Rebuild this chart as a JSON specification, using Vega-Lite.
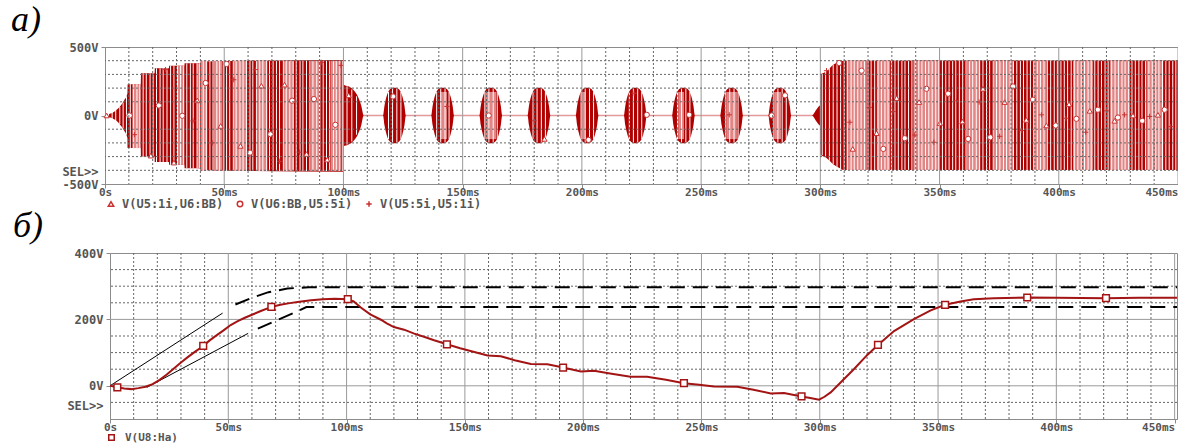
{
"$schema": "https://vega.github.io/schema/vega-lite/v6.json",
"background": "white",
"padding": {"left": 10, "top": 1, "right": 0, "bottom": 0},
"bounds": "flush",
"spacing": 69,
"resolve": {"scale": {"shape": "independent"}, "legend": {"shape": "independent"}},
"config": {
 "view": {"stroke": "#8c8c8c"},
 "axis": {"labelFont": "DejaVu Sans Mono", "labelFontWeight": "bold", "labelFontSize": 12, "labelColor": "#555555", "domainColor": "#8c8c8c", "tickColor": "#8c8c8c", "tickSize": 4, "labelPadding": 2, "grid": false, "labelOverlap": false},
 "legend": {"labelFont": "DejaVu Sans Mono", "labelFontWeight": "bold", "labelFontSize": 12, "labelColor": "#555555"},
 "title": {"font": "Liberation Serif", "fontStyle": "italic", "fontWeight": "normal", "fontSize": 36, "color": "#000000"}
},
"datasets": {
 "gxM": [{"t":50},{"t":100},{"t":150},{"t":200},{"t":250},{"t":300},{"t":350},{"t":400},{"t":450}],
 "gxm": [{"t":10},{"t":20},{"t":30},{"t":40},{"t":60},{"t":70},{"t":80},{"t":90},{"t":110},{"t":120},{"t":130},{"t":140},{"t":160},{"t":170},{"t":180},{"t":190},{"t":210},{"t":220},{"t":230},{"t":240},{"t":260},{"t":270},{"t":280},{"t":290},{"t":310},{"t":320},{"t":330},{"t":340},{"t":360},{"t":370},{"t":380},{"t":390},{"t":410},{"t":420},{"t":430},{"t":440}],
 "gz": [{"v":0}],
 "gyt": [{"v":-400},{"v":-300},{"v":-200},{"v":-100},{"v":100},{"v":200},{"v":300},{"v":400}],
 "gyb": [{"v":-50},{"v":50},{"v":100},{"v":150},{"v":250},{"v":300},{"v":350}],
 "gybs": [{"v":0},{"v":200}],
 "env": [
  {"t":0,"a":0,"b":0},{"t":2,"a":12,"b":-12},{"t":4,"a":30,"b":-30},{"t":6,"a":60,"b":-60},{"t":8,"a":110,"b":-110},{"t":9.4,"a":160,"b":-165},
  {"t":9.5,"a":229,"b":-238},{"t":15,"a":229,"b":-238},{"t":15.1,"a":308,"b":-300},{"t":20.8,"a":308,"b":-300},{"t":20.9,"a":344,"b":-340},{"t":26.8,"a":344,"b":-340},
  {"t":26.9,"a":364,"b":-360},{"t":33.3,"a":364,"b":-360},{"t":33.4,"a":381,"b":-385},{"t":40,"a":381,"b":-385},{"t":40.1,"a":395,"b":-398},{"t":60,"a":400,"b":-405},
  {"t":99.8,"a":405,"b":-410},{"t":100,"a":225,"b":-225},{"t":102,"a":213,"b":-213},{"t":104,"a":190,"b":-190},{"t":106,"a":140,"b":-140},{"t":107.5,"a":70,"b":-70},{"t":108.5,"a":0,"b":0},
  {"t":116.6,"a":0,"b":0},{"t":117.2,"a":70,"b":-70},{"t":118.1,"a":140,"b":-140},{"t":119.2,"a":185,"b":-185},{"t":120.4,"a":200,"b":-200},{"t":121.4,"a":203,"b":-203},{"t":122.4,"a":200,"b":-200},{"t":123.6,"a":185,"b":-185},{"t":124.7,"a":140,"b":-140},{"t":125.6,"a":70,"b":-70},{"t":126.2,"a":0,"b":0},
  {"t":136.8,"a":0,"b":0},{"t":137.4,"a":70,"b":-70},{"t":138.3,"a":140,"b":-140},{"t":139.4,"a":185,"b":-185},{"t":140.6,"a":200,"b":-200},{"t":141.6,"a":203,"b":-203},{"t":142.6,"a":200,"b":-200},{"t":143.8,"a":185,"b":-185},{"t":144.9,"a":140,"b":-140},{"t":145.8,"a":70,"b":-70},{"t":146.4,"a":0,"b":0},
  {"t":157.0,"a":0,"b":0},{"t":157.6,"a":70,"b":-70},{"t":158.5,"a":140,"b":-140},{"t":159.6,"a":185,"b":-185},{"t":160.8,"a":200,"b":-200},{"t":161.8,"a":203,"b":-203},{"t":162.8,"a":200,"b":-200},{"t":164.0,"a":185,"b":-185},{"t":165.1,"a":140,"b":-140},{"t":166.0,"a":70,"b":-70},{"t":166.6,"a":0,"b":0},
  {"t":177.2,"a":0,"b":0},{"t":177.8,"a":70,"b":-70},{"t":178.7,"a":140,"b":-140},{"t":179.8,"a":185,"b":-185},{"t":181.0,"a":200,"b":-200},{"t":182.0,"a":203,"b":-203},{"t":183.0,"a":200,"b":-200},{"t":184.2,"a":185,"b":-185},{"t":185.3,"a":140,"b":-140},{"t":186.2,"a":70,"b":-70},{"t":186.8,"a":0,"b":0},
  {"t":197.4,"a":0,"b":0},{"t":198.0,"a":70,"b":-70},{"t":198.9,"a":140,"b":-140},{"t":200.0,"a":185,"b":-185},{"t":201.2,"a":200,"b":-200},{"t":202.2,"a":203,"b":-203},{"t":203.2,"a":200,"b":-200},{"t":204.4,"a":185,"b":-185},{"t":205.5,"a":140,"b":-140},{"t":206.4,"a":70,"b":-70},{"t":207.0,"a":0,"b":0},
  {"t":217.6,"a":0,"b":0},{"t":218.2,"a":70,"b":-70},{"t":219.1,"a":140,"b":-140},{"t":220.2,"a":185,"b":-185},{"t":221.4,"a":200,"b":-200},{"t":222.4,"a":203,"b":-203},{"t":223.4,"a":200,"b":-200},{"t":224.6,"a":185,"b":-185},{"t":225.7,"a":140,"b":-140},{"t":226.6,"a":70,"b":-70},{"t":227.2,"a":0,"b":0},
  {"t":237.8,"a":0,"b":0},{"t":238.4,"a":70,"b":-70},{"t":239.3,"a":140,"b":-140},{"t":240.4,"a":185,"b":-185},{"t":241.6,"a":200,"b":-200},{"t":242.6,"a":203,"b":-203},{"t":243.6,"a":200,"b":-200},{"t":244.8,"a":185,"b":-185},{"t":245.9,"a":140,"b":-140},{"t":246.8,"a":70,"b":-70},{"t":247.4,"a":0,"b":0},
  {"t":258.0,"a":0,"b":0},{"t":258.6,"a":70,"b":-70},{"t":259.5,"a":140,"b":-140},{"t":260.6,"a":185,"b":-185},{"t":261.8,"a":200,"b":-200},{"t":262.8,"a":203,"b":-203},{"t":263.8,"a":200,"b":-200},{"t":265.0,"a":185,"b":-185},{"t":266.1,"a":140,"b":-140},{"t":267.0,"a":70,"b":-70},{"t":267.6,"a":0,"b":0},
  {"t":278.2,"a":0,"b":0},{"t":278.8,"a":70,"b":-70},{"t":279.7,"a":140,"b":-140},{"t":280.8,"a":185,"b":-185},{"t":282.0,"a":200,"b":-200},{"t":283.0,"a":203,"b":-203},{"t":284.0,"a":200,"b":-200},{"t":285.2,"a":185,"b":-185},{"t":286.3,"a":140,"b":-140},{"t":287.2,"a":70,"b":-70},{"t":287.8,"a":0,"b":0},
  {"t":296.5,"a":0,"b":0},{"t":298,"a":35,"b":-35},{"t":299.5,"a":70,"b":-70},{"t":299.9,"a":75,"b":-75},{"t":300,"a":298,"b":-285},{"t":302.6,"a":322,"b":-310},{"t":305.4,"a":371,"b":-355},{"t":308.2,"a":390,"b":-385},{"t":309.6,"a":400,"b":-398},{"t":450,"a":402,"b":-398}
 ],
 "seg": [
  {"k":"s1","a":12,"b":-12},{"k":"s2","a":25,"b":-25},{"k":"s3","a":40,"b":-40},{"k":"s4","a":62,"b":-62},{"k":"s5","a":95,"b":-95},{"k":"s6","a":140,"b":-140},
  {"k":"A","a":229,"b":-238},{"k":"B","a":308,"b":-300},{"k":"C","a":344,"b":-340},{"k":"D","a":364,"b":-360},{"k":"E","a":381,"b":-385},{"k":"F","a":400,"b":-405},
  {"k":"d1","a":213,"b":-213},{"k":"d2","a":190,"b":-190},{"k":"d3","a":140,"b":-140},{"k":"u1","a":172,"b":-172},{"k":"u2","a":198,"b":-198},
  {"k":"r1","a":305,"b":-290},{"k":"r2","a":322,"b":-305},{"k":"r3","a":345,"b":-330},{"k":"r4","a":371,"b":-355},{"k":"r5","a":385,"b":-375},{"k":"r6","a":393,"b":-390},{"k":"G","a":401,"b":-398}
 ],
 "pz": [
  {"t":11.5,"t2":14.9,"k":"A"},{"t":30.3,"t2":33.2,"k":"D"},{"t":38.7,"t2":39.9,"k":"E"},{"t":40.2,"t2":42.9,"k":"F"},{"t":45.6,"t2":49.1,"k":"F"},{"t":54,"t2":59.6,"k":"F"},{"t":63.8,"t2":68,"k":"F"},{"t":75,"t2":79.2,"k":"F"},{"t":86.2,"t2":90.4,"k":"F"},{"t":94.6,"t2":98.8,"k":"F"},
  {"t":140.6,"t2":143.4,"k":"u1"},{"t":159.6,"t2":164,"k":"u1"},{"t":199.5,"t2":201.5,"k":"u1"},{"t":240.4,"t2":242.8,"k":"u1"},{"t":260.6,"t2":265,"k":"u1"},{"t":280.8,"t2":283.5,"k":"u1"},
  {"t":311.1,"t2":319.5,"k":"G"},{"t":323.7,"t2":329.3,"k":"G"},{"t":339,"t2":350,"k":"G"},{"t":361.4,"t2":367,"k":"G"},{"t":372.6,"t2":381,"k":"G"},{"t":389.3,"t2":394.9,"k":"G"},{"t":406,"t2":414.4,"k":"G"},{"t":421.4,"t2":429.8,"k":"G"},{"t":436.8,"t2":443.8,"k":"G"}
 ],
 "wl": [
  {"t":1.5,"k":"s1"},{"t":3,"k":"s2"},{"t":4.5,"k":"s3"},{"t":6.2,"k":"s4"},{"t":7.6,"k":"s5"},{"t":9,"k":"s6"},
  {"t":10.6,"k":"A"},{"t":11.9,"k":"A"},{"t":13.4,"k":"A"},{"t":14.6,"k":"A"},
  {"t":16.0,"k":"B"},{"t":17.3,"k":"B"},{"t":18.9,"k":"B"},{"t":20.2,"k":"B"},
  {"t":21.6,"k":"C"},{"t":23.1,"k":"C"},{"t":24.4,"k":"C"},{"t":26.0,"k":"C"},
  {"t":27.5,"k":"D"},{"t":28.9,"k":"D"},{"t":30.4,"k":"D"},{"t":31.7,"k":"D"},{"t":33.0,"k":"D"},
  {"t":34.3,"k":"E"},{"t":35.8,"k":"E"},{"t":37.0,"k":"E"},{"t":38.6,"k":"E"},{"t":39.7,"k":"E"},
  {"t":41.2,"k":"F"},{"t":42.5,"k":"F"},{"t":44.0,"k":"F"},{"t":45.3,"k":"F"},{"t":46.9,"k":"F"},{"t":48.1,"k":"F"},{"t":49.6,"k":"F"},{"t":51.0,"k":"F"},{"t":52.3,"k":"F"},{"t":53.8,"k":"F"},{"t":55.0,"k":"F"},{"t":56.6,"k":"F"},{"t":57.9,"k":"F"},{"t":59.3,"k":"F"},{"t":60.8,"k":"F"},{"t":62.0,"k":"F"},{"t":63.5,"k":"F"},{"t":64.9,"k":"F"},{"t":66.2,"k":"F"},{"t":67.8,"k":"F"},{"t":69.0,"k":"F"},{"t":70.5,"k":"F"},{"t":71.9,"k":"F"},{"t":73.2,"k":"F"},{"t":74.8,"k":"F"},{"t":76.0,"k":"F"},{"t":77.5,"k":"F"},{"t":78.9,"k":"F"},{"t":80.2,"k":"F"},{"t":81.8,"k":"F"},{"t":83.0,"k":"F"},{"t":84.5,"k":"F"},{"t":85.9,"k":"F"},{"t":87.2,"k":"F"},{"t":88.8,"k":"F"},{"t":90.0,"k":"F"},{"t":91.5,"k":"F"},{"t":92.9,"k":"F"},{"t":94.2,"k":"F"},{"t":95.8,"k":"F"},{"t":97.0,"k":"F"},{"t":98.5,"k":"F"},{"t":99.5,"k":"F"},
  {"t":101.5,"k":"d1"},{"t":103.5,"k":"d2"},{"t":105.5,"k":"d3"},
  {"t":118.9,"k":"u1"},{"t":120.6,"k":"u2"},{"t":122.4,"k":"u2"},{"t":124.1,"k":"u1"},
  {"t":139.1,"k":"u1"},{"t":140.8,"k":"u2"},{"t":142.6,"k":"u2"},{"t":144.3,"k":"u1"},
  {"t":159.3,"k":"u1"},{"t":161.0,"k":"u2"},{"t":162.8,"k":"u2"},{"t":164.5,"k":"u1"},
  {"t":179.5,"k":"u1"},{"t":181.2,"k":"u2"},{"t":183.0,"k":"u2"},{"t":184.7,"k":"u1"},
  {"t":199.7,"k":"u1"},{"t":201.4,"k":"u2"},{"t":203.2,"k":"u2"},{"t":204.9,"k":"u1"},
  {"t":219.9,"k":"u1"},{"t":221.6,"k":"u2"},{"t":223.4,"k":"u2"},{"t":225.1,"k":"u1"},
  {"t":240.1,"k":"u1"},{"t":241.8,"k":"u2"},{"t":243.6,"k":"u2"},{"t":245.3,"k":"u1"},
  {"t":260.3,"k":"u1"},{"t":262.0,"k":"u2"},{"t":263.8,"k":"u2"},{"t":265.5,"k":"u1"},
  {"t":280.5,"k":"u1"},{"t":282.2,"k":"u2"},{"t":284.0,"k":"u2"},{"t":285.7,"k":"u1"},
  {"t":300.8,"k":"r1"},{"t":302.2,"k":"r2"},{"t":303.8,"k":"r3"},{"t":305.4,"k":"r4"},{"t":307,"k":"r5"},{"t":308.5,"k":"r6"},
  {"t":310.0,"k":"G"},{"t":311.3,"k":"G"},{"t":312.9,"k":"G"},{"t":314.2,"k":"G"},{"t":315.7,"k":"G"},{"t":317.1,"k":"G"},{"t":318.5,"k":"G"},{"t":320.0,"k":"G"},{"t":321.3,"k":"G"},{"t":322.8,"k":"G"},{"t":324.2,"k":"G"},{"t":325.6,"k":"G"},{"t":327.1,"k":"G"},{"t":328.4,"k":"G"},{"t":329.9,"k":"G"},{"t":331.3,"k":"G"},{"t":332.7,"k":"G"},{"t":334.2,"k":"G"},{"t":335.5,"k":"G"},{"t":337.0,"k":"G"},{"t":338.4,"k":"G"},{"t":339.8,"k":"G"},{"t":341.3,"k":"G"},{"t":342.6,"k":"G"},{"t":344.1,"k":"G"},{"t":345.5,"k":"G"},{"t":346.9,"k":"G"},{"t":348.4,"k":"G"},{"t":349.7,"k":"G"},{"t":351.2,"k":"G"},{"t":352.6,"k":"G"},{"t":354.0,"k":"G"},{"t":355.5,"k":"G"},{"t":356.8,"k":"G"},{"t":358.3,"k":"G"},{"t":359.7,"k":"G"},{"t":361.1,"k":"G"},{"t":362.6,"k":"G"},{"t":363.9,"k":"G"},{"t":365.4,"k":"G"},{"t":366.8,"k":"G"},{"t":368.2,"k":"G"},{"t":369.7,"k":"G"},{"t":371.0,"k":"G"},{"t":372.5,"k":"G"},{"t":373.9,"k":"G"},{"t":375.3,"k":"G"},{"t":376.8,"k":"G"},{"t":378.1,"k":"G"},{"t":379.6,"k":"G"},{"t":381.0,"k":"G"},{"t":382.4,"k":"G"},{"t":383.9,"k":"G"},{"t":385.2,"k":"G"},{"t":386.7,"k":"G"},{"t":388.1,"k":"G"},{"t":389.5,"k":"G"},{"t":391.0,"k":"G"},{"t":392.3,"k":"G"},{"t":393.8,"k":"G"},{"t":395.2,"k":"G"},{"t":396.6,"k":"G"},{"t":398.1,"k":"G"},{"t":399.4,"k":"G"},{"t":400.9,"k":"G"},{"t":402.3,"k":"G"},{"t":403.7,"k":"G"},{"t":405.2,"k":"G"},{"t":406.5,"k":"G"},{"t":408.0,"k":"G"},{"t":409.4,"k":"G"},{"t":410.8,"k":"G"},{"t":412.3,"k":"G"},{"t":413.6,"k":"G"},{"t":415.1,"k":"G"},{"t":416.5,"k":"G"},{"t":417.9,"k":"G"},{"t":419.4,"k":"G"},{"t":420.7,"k":"G"},{"t":422.2,"k":"G"},{"t":423.6,"k":"G"},{"t":425.0,"k":"G"},{"t":426.5,"k":"G"},{"t":427.8,"k":"G"},{"t":429.3,"k":"G"},{"t":430.7,"k":"G"},{"t":432.1,"k":"G"},{"t":433.6,"k":"G"},{"t":434.9,"k":"G"},{"t":436.4,"k":"G"},{"t":437.8,"k":"G"},{"t":439.2,"k":"G"},{"t":440.7,"k":"G"},{"t":442.0,"k":"G"},{"t":443.5,"k":"G"},{"t":444.9,"k":"G"},{"t":446.3,"k":"G"},{"t":447.8,"k":"G"},{"t":449.1,"k":"G"}
 ],
 "mk": [
  {"t":0.7,"v":0,"s":"1"},{"t":10.3,"v":0,"s":"2"},{"t":12.3,"v":-140,"s":"3"},{"t":19.2,"v":-293,"s":"1"},{"t":22.6,"v":73,"s":"2"},{"t":25.4,"v":335,"s":"3"},{"t":28.9,"v":-344,"s":"1"},{"t":32.4,"v":-2,"s":"2"},{"t":36.9,"v":-39,"s":"3"},{"t":38.7,"v":110,"s":"1"},{"t":42.2,"v":237,"s":"2"},{"t":45,"v":-200,"s":"3"},{"t":48.5,"v":-76,"s":"1"},{"t":51,"v":376,"s":"2"},{"t":54,"v":261,"s":"3"},{"t":56.8,"v":-222,"s":"1"},{"t":60.8,"v":-271,"s":"2"},{"t":63.1,"v":335,"s":"3"},{"t":65.6,"v":217,"s":"1"},{"t":69.4,"v":-137,"s":"2"},{"t":73.3,"v":-335,"s":"3"},{"t":75.3,"v":225,"s":"1"},{"t":78.5,"v":108,"s":"2"},{"t":81.6,"v":-268,"s":"3"},{"t":84.5,"v":-281,"s":"1"},{"t":87.6,"v":120,"s":"2"},{"t":90.7,"v":388,"s":"3"},{"t":93.2,"v":-322,"s":"1"},{"t":96.6,"v":-68,"s":"2"},{"t":99,"v":366,"s":"3"},{"t":102.2,"v":147,"s":"1"},
  {"t":120.8,"v":139,"s":"2"},{"t":143.4,"v":66,"s":"3"},{"t":160.9,"v":0,"s":"2"},{"t":180,"v":-39,"s":"3"},{"t":184.3,"v":-171,"s":"1"},{"t":202.8,"v":-178,"s":"2"},{"t":221.9,"v":163,"s":"3"},{"t":227.2,"v":5,"s":"2"},{"t":245,"v":5,"s":"2"},{"t":261.8,"v":5,"s":"3"},{"t":279.6,"v":0,"s":"2"},{"t":285.2,"v":147,"s":"2"},
  {"t":302.6,"v":327,"s":"3"},{"t":307.9,"v":383,"s":"2"},{"t":317.3,"v":327,"s":"2"},{"t":312.4,"v":-49,"s":"3"},{"t":320.5,"v":59,"s":"3"},{"t":313.6,"v":-244,"s":"1"},{"t":323.6,"v":-129,"s":"1"},{"t":326.4,"v":-244,"s":"2"},{"t":332,"v":127,"s":"1"},{"t":330.5,"v":29,"s":"3"},{"t":335.4,"v":-166,"s":"2"},{"t":339.6,"v":-142,"s":"3"},{"t":341.4,"v":98,"s":"1"},{"t":344.5,"v":195,"s":"2"},{"t":347.6,"v":-195,"s":"3"},{"t":350.1,"v":-56,"s":"1"},{"t":353.6,"v":159,"s":"2"},{"t":357.1,"v":107,"s":"3"},{"t":359.6,"v":-44,"s":"1"},{"t":362,"v":-171,"s":"2"},{"t":366.6,"v":98,"s":"3"},{"t":368.2,"v":195,"s":"1"},{"t":371.3,"v":-159,"s":"2"},{"t":375.2,"v":-152,"s":"3"},{"t":377.3,"v":98,"s":"1"},{"t":380.8,"v":212,"s":"2"},{"t":384.3,"v":-110,"s":"3"},{"t":386.4,"v":-32,"s":"1"},{"t":389.2,"v":115,"s":"2"},{"t":392.7,"v":5,"s":"3"},{"t":394.8,"v":-73,"s":"1"},{"t":398.7,"v":-73,"s":"2"},{"t":402.9,"v":-20,"s":"3"},{"t":404.3,"v":83,"s":"1"},{"t":407.4,"v":-24,"s":"2"},{"t":411.3,"v":-122,"s":"3"},{"t":413,"v":34,"s":"1"},{"t":416.4,"v":42,"s":"2"},{"t":420,"v":34,"s":"3"},{"t":423.4,"v":-39,"s":"1"},{"t":424.8,"v":-15,"s":"2"},{"t":427.6,"v":5,"s":"3"},{"t":431.1,"v":0,"s":"1"},{"t":435,"v":-39,"s":"2"},{"t":438.1,"v":-7,"s":"3"},{"t":441.6,"v":5,"s":"1"},{"t":444.4,"v":42,"s":"2"},{"t":446.8,"v":-81,"s":"3"}
 ],
 "cv": [
  {"t":0,"v":0},{"t":3,"v":-4},{"t":6,"v":-8},{"t":9,"v":-10},{"t":12,"v":-7},{"t":15,"v":-3},{"t":18,"v":5},{"t":21,"v":18},{"t":24,"v":34},{"t":27,"v":52},{"t":30,"v":70},{"t":33,"v":87},{"t":36,"v":103},{"t":39.4,"v":120},{"t":42,"v":136},{"t":45,"v":152},{"t":48,"v":167},{"t":51,"v":183},{"t":54,"v":195},{"t":57,"v":205},{"t":60,"v":214},{"t":64,"v":226},{"t":68,"v":237},{"t":72,"v":244},{"t":76,"v":249},{"t":80,"v":253},{"t":85,"v":258},{"t":90,"v":261},{"t":95,"v":262},{"t":100.5,"v":261},
  {"t":103,"v":254},{"t":106,"v":236},{"t":110,"v":215},{"t":114.5,"v":199},{"t":117,"v":188},{"t":120,"v":177},{"t":124.3,"v":169},{"t":128.6,"v":157},{"t":133,"v":147},{"t":137,"v":137},{"t":142.4,"v":125},{"t":148,"v":113},{"t":154,"v":102},{"t":159.6,"v":91},{"t":165.2,"v":89},{"t":171,"v":77},{"t":177.9,"v":66},{"t":184.9,"v":65},{"t":191.5,"v":55},{"t":199,"v":43},{"t":204.6,"v":45},{"t":212,"v":36},{"t":220,"v":27},{"t":227,"v":27},{"t":235,"v":18},{"t":242.6,"v":8},{"t":249,"v":3},{"t":255.3,"v":-2},{"t":265.2,"v":-3},{"t":272,"v":-12},{"t":279.3,"v":-23},{"t":284.9,"v":-22},{"t":292.3,"v":-32},{"t":296,"v":-37},{"t":299.7,"v":-42},
  {"t":302,"v":-33},{"t":304.6,"v":-20},{"t":308.8,"v":10},{"t":314.4,"v":50},{"t":320.1,"v":93},{"t":324.6,"v":123},{"t":331.4,"v":165},{"t":339.8,"v":201},{"t":346.9,"v":227},{"t":353,"v":244},{"t":359.5,"v":254},{"t":365.1,"v":261},{"t":373.6,"v":264},{"t":387.7,"v":266},{"t":400,"v":265},{"t":421,"v":264},{"t":435,"v":265},{"t":451,"v":265}
 ],
 "sq": [
  {"t":3.1,"v":-5,"s":"8"},{"t":39.4,"v":120,"s":"8"},{"t":68.2,"v":238,"s":"8"},{"t":100.5,"v":261,"s":"8"},{"t":142.4,"v":125,"s":"8"},{"t":191.5,"v":55,"s":"8"},{"t":242.6,"v":8,"s":"8"},{"t":292.3,"v":-32,"s":"8"},{"t":324.6,"v":123,"s":"8"},{"t":353,"v":244,"s":"8"},{"t":387.7,"v":266,"s":"8"},{"t":421,"v":264,"s":"8"}
 ],
 "gs": [
  {"g":"u","t":0,"v":0},{"g":"u","t":47.6,"v":219},{"g":"l","t":15.5,"v":-5},{"g":"l","t":58.4,"v":158}
 ],
 "gd": [
  {"g":"u","t":53,"v":245},{"g":"u","t":60,"v":265},{"g":"u","t":67,"v":282},{"g":"u","t":75,"v":293},{"g":"u","t":84,"v":297},{"g":"u","t":451,"v":297},
  {"g":"l","t":62.5,"v":172},{"g":"l","t":70.5,"v":197},{"g":"l","t":78.5,"v":222},{"g":"l","t":83,"v":237},{"g":"l","t":451,"v":237}
 ],
 "blank": [{"t":0}]
},
"vconcat": [
 {
  "width": 1073, "height": 137,
  "title": {"text": "а)", "anchor": "start", "frame": "group", "dx": -94, "offset": 2},
  "layer": [
   {"data": {"name": "gz"}, "mark": {"type": "rule", "color": "#e49a9a", "strokeWidth": 1.5},
    "encoding": {"y": {"field": "v", "type": "quantitative", "title": null, "scale": {"domain": [-500, 500], "nice": false, "zero": false},
      "axis": {"values": [-500, -412, 0, 500], "labelPadding": 3, "labelOverlap": false,
       "labelExpr": "datum.value == 500 ? '500V' : datum.value == 0 ? '0V' : datum.value == -500 ? '-500V' : 'SEL>>'",
       "tickOpacity": {"condition": {"test": "datum.value == -412", "value": 0}, "value": 1}}}}},
   {"data": {"name": "env"}, "mark": {"type": "area", "color": "#b00000", "interpolate": "monotone"},
    "encoding": {"x": {"field": "t", "type": "quantitative", "title": null, "scale": {"domain": [0, 450], "nice": false, "zero": false},
      "axis": {"values": [0, 50, 100, 150, 200, 250, 300, 350, 400, 450], "labelFontSize": 11, "labelPadding": -2, "labelOverlap": false,
       "labelExpr": "datum.value == 0 ? '0s' : datum.value + 'ms'",
       "labelAlign": {"condition": {"test": "datum.value == 450", "value": "right"}, "value": "center"}}},
     "y": {"field": "a", "type": "quantitative", "title": null, "scale": {"domain": [-500, 500], "nice": false, "zero": false}},
     "y2": {"field": "b"}}},
   {"data": {"name": "pz"}, "transform": [{"lookup": "k", "from": {"data": {"name": "seg"}, "key": "k", "fields": ["a", "b"]}}],
    "mark": {"type": "rect", "color": "#e38585"},
    "encoding": {"x": {"field": "t", "type": "quantitative", "title": null, "scale": {"domain": [0, 450], "nice": false, "zero": false}}, "x2": {"field": "t2"},
     "y": {"field": "a", "type": "quantitative", "title": null, "scale": {"domain": [-500, 500], "nice": false, "zero": false}}, "y2": {"field": "b"}}},
   {"data": {"name": "wl"}, "transform": [{"lookup": "k", "from": {"data": {"name": "seg"}, "key": "k", "fields": ["a", "b"]}}],
    "mark": {"type": "rule", "color": "#ffffff", "strokeWidth": 1},
    "encoding": {"x": {"field": "t", "type": "quantitative", "title": null, "scale": {"domain": [0, 450], "nice": false, "zero": false}},
     "y": {"field": "a", "type": "quantitative", "title": null, "scale": {"domain": [-500, 500], "nice": false, "zero": false}}, "y2": {"field": "b"}}},
   {"data": {"name": "mk"}, "mark": {"type": "point", "filled": true, "fill": "#ffffff", "stroke": "#c83232", "strokeWidth": 1, "size": 28, "opacity": 1},
    "encoding": {"x": {"field": "t", "type": "quantitative", "title": null, "scale": {"domain": [0, 450], "nice": false, "zero": false}},
     "y": {"field": "v", "type": "quantitative", "title": null, "scale": {"domain": [-500, 500], "nice": false, "zero": false}},
     "shape": {"field": "s", "type": "nominal", "scale": {"domain": ["1", "2", "3"], "range": ["triangle-up", "circle", "M-1,0L1,0M0,-1L0,1"]},
      "legend": {"orient": "none", "legendX": 0, "legendY": 151, "direction": "horizontal", "title": null, "padding": 0, "columnPadding": 10, "labelOffset": 5, "symbolSize": 30,
       "labelExpr": "datum.label == '1' ? 'V(U5:1i,U6:BB)' : datum.label == '2' ? 'V(U6:BB,U5:5i)' : 'V(U5:5i,U5:1i)'"}}}},
   {"data": {"name": "gxm"}, "mark": {"type": "rule", "color": "#666666", "strokeWidth": 1, "strokeDash": [2, 2]},
    "encoding": {"x": {"field": "t", "type": "quantitative", "title": null, "scale": {"domain": [0, 450], "nice": false, "zero": false}}}},
   {"data": {"name": "gxM"}, "mark": {"type": "rule", "color": "#9a9a9a", "strokeWidth": 1},
    "encoding": {"x": {"field": "t", "type": "quantitative", "title": null, "scale": {"domain": [0, 450], "nice": false, "zero": false}}}},
   {"data": {"name": "gyt"}, "mark": {"type": "rule", "color": "#666666", "strokeWidth": 1, "strokeDash": [2, 2]},
    "encoding": {"y": {"field": "v", "type": "quantitative", "title": null, "scale": {"domain": [-500, 500], "nice": false, "zero": false}}}}
  ]
 },
 {
  "bounds": "flush",
  "spacing": 4,
  "hconcat": [
   {"width": 1, "height": 166, "view": {"stroke": null}, "data": {"name": "blank"}, "mark": {"type": "point", "opacity": 0}},
   {
    "width": 1067, "height": 166,
    "title": {"text": "б)", "anchor": "start", "frame": "group", "dx": -97, "offset": 2},
    "layer": [
     {"data": {"name": "gxm"}, "mark": {"type": "rule", "color": "#666666", "strokeWidth": 1, "strokeDash": [2, 2]},
      "encoding": {"x": {"field": "t", "type": "quantitative", "title": null, "scale": {"domain": [0, 451], "nice": false, "zero": false},
        "axis": {"values": [0, 50, 100, 150, 200, 250, 300, 350, 400, 450], "labelFontSize": 11, "labelPadding": -2, "labelOverlap": false,
         "labelExpr": "datum.value == 0 ? '0s' : datum.value + 'ms'",
         "labelAlign": {"condition": {"test": "datum.value == 450", "value": "right"}, "value": "center"}}}}},
     {"data": {"name": "gxM"}, "mark": {"type": "rule", "color": "#9a9a9a", "strokeWidth": 1},
      "encoding": {"x": {"field": "t", "type": "quantitative", "title": null, "scale": {"domain": [0, 451], "nice": false, "zero": false}}}},
     {"data": {"name": "gyb"}, "mark": {"type": "rule", "color": "#666666", "strokeWidth": 1, "strokeDash": [2, 2]},
      "encoding": {"y": {"field": "v", "type": "quantitative", "title": null, "scale": {"domain": [-100, 400], "nice": false, "zero": false},
        "axis": {"values": [-58, 0, 200, 400], "labelPadding": 3, "labelOverlap": false,
         "labelExpr": "datum.value == 400 ? '400V' : datum.value == 200 ? '200V' : datum.value == 0 ? '0V' : 'SEL>>'",
         "tickOpacity": {"condition": {"test": "datum.value == -58", "value": 0}, "value": 1}}}}},
     {"data": {"name": "gybs"}, "mark": {"type": "rule", "color": "#9a9a9a", "strokeWidth": 1},
      "encoding": {"y": {"field": "v", "type": "quantitative", "title": null, "scale": {"domain": [-100, 400], "nice": false, "zero": false}}}},
     {"data": {"name": "gs"}, "mark": {"type": "line", "color": "#000000", "strokeWidth": 1},
      "encoding": {"x": {"field": "t", "type": "quantitative", "title": null, "scale": {"domain": [0, 451], "nice": false, "zero": false}},
       "y": {"field": "v", "type": "quantitative", "title": null, "scale": {"domain": [-100, 400], "nice": false, "zero": false}},
       "detail": {"field": "g", "type": "nominal"}}},
     {"data": {"name": "gd"}, "mark": {"type": "line", "color": "#000000", "strokeWidth": 2, "strokeDash": [15, 8]},
      "encoding": {"x": {"field": "t", "type": "quantitative", "title": null, "scale": {"domain": [0, 451], "nice": false, "zero": false}},
       "y": {"field": "v", "type": "quantitative", "title": null, "scale": {"domain": [-100, 400], "nice": false, "zero": false}},
       "detail": {"field": "g", "type": "nominal"}}},
     {"data": {"name": "cv"}, "mark": {"type": "line", "color": "#a31414", "strokeWidth": 2},
      "encoding": {"x": {"field": "t", "type": "quantitative", "title": null, "scale": {"domain": [0, 451], "nice": false, "zero": false}},
       "y": {"field": "v", "type": "quantitative", "title": null, "scale": {"domain": [-100, 400], "nice": false, "zero": false}}}},
     {"data": {"name": "sq"}, "mark": {"type": "point", "filled": true, "fill": "#ffffff", "stroke": "#a31414", "strokeWidth": 1.5, "size": 45, "opacity": 1},
      "encoding": {"x": {"field": "t", "type": "quantitative", "title": null, "scale": {"domain": [0, 451], "nice": false, "zero": false}},
       "y": {"field": "v", "type": "quantitative", "title": null, "scale": {"domain": [-100, 400], "nice": false, "zero": false}},
       "shape": {"field": "s", "type": "nominal", "scale": {"domain": ["8"], "range": ["square"]},
        "legend": {"orient": "none", "legendX": 1, "legendY": 179, "title": null, "padding": 0, "labelOffset": 8, "symbolSize": 30, "labelFontSize": 11, "labelExpr": "'V(U8:Ha)'"}}}}
    ]
   }
  ]
 }
]
}
